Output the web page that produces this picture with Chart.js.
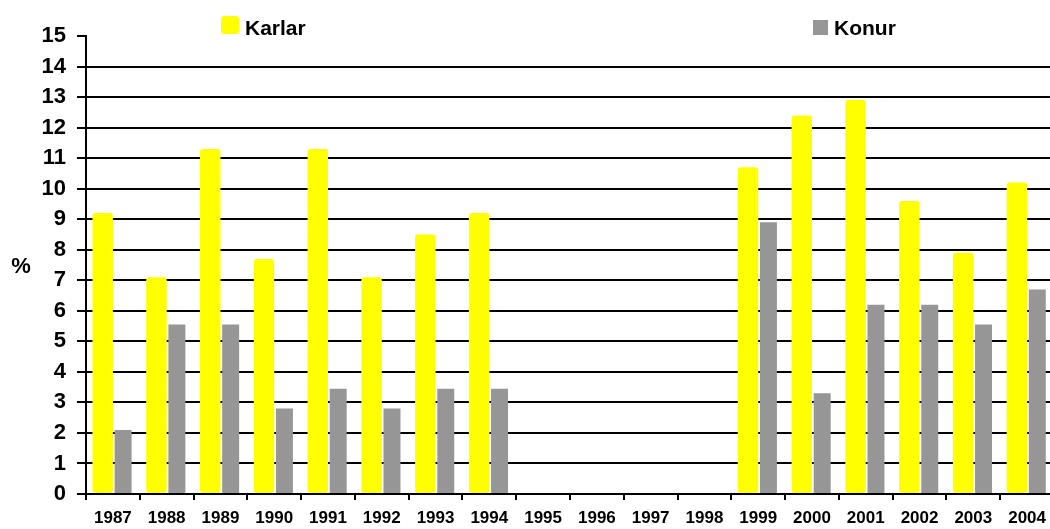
<!DOCTYPE html>
<html><head><meta charset="utf-8">
<script src="https://cdn.jsdelivr.net/npm/chart.js@4/dist/chart.umd.min.js"></script>
<style>html,body{margin:0;padding:0;background:#fff;overflow:hidden}#wrap{width:1054px;height:529px}</style>
</head><body><div id="wrap"><canvas id="c" width="1054" height="529"></canvas></div>
<script>
const years = ['1987','1988','1989','1990','1991','1992','1993','1994','1995','1996','1997','1998','1999','2000','2001','2002','2003','2004'];
const karlar = [9.2, 7.1, 11.3, 7.7, 11.3, 7.1, 8.5, 9.2, null, null, null, null, 10.7, 12.4, 12.9, 9.6, 7.9, 10.2];
const konur  = [2.1, 5.55, 5.55, 2.8, 3.45, 2.8, 3.45, 3.45, null, null, null, null, 8.9, 3.3, 6.2, 6.2, 5.55, 6.7];
const seriesNames = ['Karlar', 'Konur'];
const yAxisTitle = '%';
const yMin = 0, yMax = 15, yStep = 1;

const FONT = '"Liberation Sans", Arial, sans-serif';

const overlay = {
  id: 'overlay',
  afterDraw(chart) {
    const ctx = chart.ctx;
    ctx.save();
    ctx.fillStyle = '#000';
    ctx.font = 'bold 22px ' + FONT;
    ctx.textAlign = 'center';
    ctx.textBaseline = 'middle';
    ctx.fillText(yAxisTitle, 21, 267);
    const items = [
      {x: 221, y: 16, s: 18, r: 3, tx: 245},
      {x: 813, y: 20, s: 15, r: 0, tx: 834}
    ];
    ctx.font = 'bold 21px ' + FONT;
    ctx.textAlign = 'left';
    ctx.textBaseline = 'alphabetic';
    chart.data.datasets.forEach((ds, i) => {
      const it = items[i];
      ctx.fillStyle = ds.backgroundColor;
      ctx.beginPath();
      if (it.r) ctx.roundRect(it.x, it.y, it.s, it.s, it.r); else ctx.rect(it.x, it.y, it.s, it.s);
      ctx.fill();
      ctx.fillStyle = '#000';
      ctx.fillText(ds.label, it.tx, 35);
    });
    ctx.restore();
  }
};

new Chart(document.getElementById('c'), {
  type: 'bar',
  data: {
    labels: years,
    datasets: [
      { label: seriesNames[0], data: karlar, backgroundColor: '#FFFF00', barPercentage: 1.0, categoryPercentage: 0.76, borderRadius: 3, borderSkipped: false },
      { label: seriesNames[1], data: konur, backgroundColor: '#969696', barPercentage: 0.83, categoryPercentage: 0.76, borderRadius: 0 }
    ]
  },
  options: {
    responsive: false,
    animation: false,
    layout: { padding: { top: 36, left: 0, right: 0, bottom: 0 } },
    plugins: { legend: { display: false }, tooltip: { enabled: false } },
    scales: {
      x: {
        offset: true,
        afterFit(s) { s.height = 35; },
        grid: { drawOnChartArea: false, drawTicks: true, tickLength: 6, tickColor: '#000', lineWidth: 2, offset: true },
        border: { display: true, color: '#000', width: 2 },
        ticks: { color: '#000', font: { family: FONT, size: 17, weight: 'bold' }, maxRotation: 0, autoSkip: false, padding: 8 }
      },
      y: {
        min: yMin, max: yMax,
        afterFit(s) { s.width = 86; },
        grid: {
          color: (c) => (c.tick && c.tick.value === yMax) ? 'rgba(0,0,0,0)' : '#000',
          tickColor: '#000', lineWidth: 2, tickLength: 9
        },
        border: { display: true, color: '#000', width: 2 },
        ticks: { stepSize: yStep, color: '#000', font: { family: FONT, size: 22, weight: 'bold' }, padding: 11 }
      }
    }
  },
  plugins: [overlay]
});
</script>
</body></html>
